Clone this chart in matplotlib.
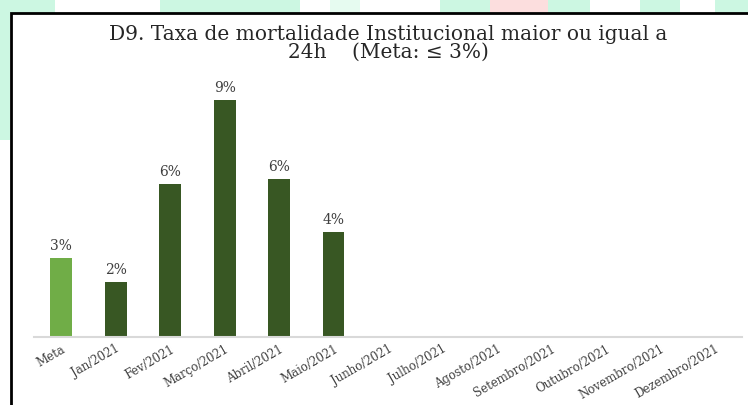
import matplotlib.pyplot as plt
from matplotlib.patches import Rectangle

# --- dados ---
categorias = ['Meta', 'Jan/2021', 'Fev/2021', 'Março/2021', 'Abril/2021', 'Maio/2021',
              'Junho/2021', 'Julho/2021', 'Agosto/2021', 'Setembro/2021',
              'Outubro/2021', 'Novembro/2021', 'Dezembro/2021']
valores = [3.0, 2.1, 5.8, 9.0, 6.0, 4.0]   # % (meses sem dado ficam vazios)
titulo_l1 = 'D9. Taxa de mortalidade Institucional maior ou igual a'
titulo_l2 = '24h    (Meta: ≤ 3%)'

COR_META = '#70ad47'
COR_MES = '#385723'
COR_TEXTO = '#404040'

W, H = 748, 405
plt.rcParams['font.family'] = ['DejaVu Serif']

fig = plt.figure(figsize=(W / 100, H / 100), dpi=100)
fig.patch.set_facecolor('white')

# faixa decorativa de fundo (topo e esquerda)
for x0, x1, cor in [(0, 60, '#ccf7e2'), (55, 160, '#ffffff'), (160, 300, '#ccf7e2'),
                    (300, 330, '#ffffff'), (330, 360, '#e6fbf0'), (360, 440, '#ffffff'),
                    (440, 490, '#ccf7e2'), (490, 548, '#fcdede'), (548, 590, '#ccf7e2'),
                    (590, 640, '#ffffff'), (640, 680, '#ccf7e2'), (680, 715, '#ffffff'),
                    (715, 748, '#ccf7e2')]:
    fig.patches.append(Rectangle((x0 / W, 1 - 13 / H), (x1 - x0) / W, 13 / H,
                                 transform=fig.transFigure, color=cor, lw=0, zorder=0))
fig.patches.append(Rectangle((0, 1 - 140 / H), 10 / W, 140 / H,
                             transform=fig.transFigure, color='#ccf7e2', lw=0, zorder=0))
# moldura preta
fig.patches.append(Rectangle((11 / W, -0.05), 1.0, 1 - 13 / H + 0.05,
                             transform=fig.transFigure, facecolor='white',
                             edgecolor='black', lw=2, zorder=1))

ax = fig.add_axes([34 / W, (H - 337) / H, (742 - 34) / W, (337 - 74) / H])
ax.set_facecolor('none')
ax.set_zorder(2)

x = list(range(len(categorias)))
cores = [COR_META] + [COR_MES] * (len(valores) - 1)
barras = ax.bar(x[:len(valores)], valores, width=0.4, color=cores)
for b, v in zip(barras, valores):
    ax.text(b.get_x() + b.get_width() / 2, v + 0.2, f'{v:.0f}%',
            ha='center', va='bottom', fontsize=10, color=COR_TEXTO)

ax.set_xlim(-0.5, len(categorias) - 0.5)
ax.set_ylim(0, 10)
ax.set_xticks(x)
ax.set_xticklabels(categorias, rotation=30, ha='right', rotation_mode='anchor',
                   fontsize=8.5, color=COR_TEXTO)
ax.tick_params(axis='x', length=0, pad=4)
ax.set_yticks([])
for s in ['top', 'right', 'left']:
    ax.spines[s].set_visible(False)
ax.spines['bottom'].set_color('#d9d9d9')
ax.spines['bottom'].set_linewidth(1.5)

fig.text(388 / W, 1 - 34 / H, titulo_l1, ha='center', va='center', fontsize=14.5,
         color='#262626', zorder=3)
fig.text(388 / W, 1 - 52 / H, titulo_l2, ha='center', va='center', fontsize=14.5,
         color='#262626', zorder=3)

fig.savefig('out.png', dpi=100)
